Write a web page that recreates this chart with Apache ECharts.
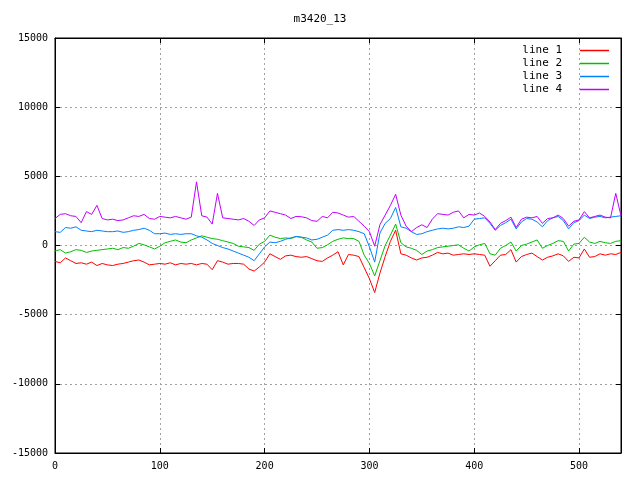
<!DOCTYPE html>
<html>
<head>
<meta charset="utf-8">
<script src="https://cdn.jsdelivr.net/npm/echarts@6/dist/echarts.min.js"></script>
<style>html,body{margin:0;padding:0;background:#fff}#c{width:640px;height:480px}</style>
</head>
<body>
<div id="c"></div>
<script>
const titleText = "m3420_13";
const seriesNames = ["line 1", "line 2", "line 3", "line 4"];
const xStep = 5;
const xTicks = [0, 100, 200, 300, 400, 500];
const yTicks = [-15000, -10000, -5000, 0, 5000, 10000, 15000];

const line1 = [
  -1150, -1250, -900, -1100, -1300, -1250, -1350, -1200, -1450, -1300,
  -1400, -1450, -1350, -1300, -1200, -1100, -1050, -1200, -1400, -1350,
  -1300, -1350, -1250, -1400, -1300, -1350, -1300, -1400, -1300, -1350,
  -1750, -1100, -1200, -1350, -1300, -1300, -1350, -1700, -1850, -1550,
  -1200, -600, -800, -1000, -750, -700, -800, -850, -800, -950,
  -1100, -1150, -900, -700, -450, -1400, -650, -700, -800, -1600,
  -2400, -3400, -2000, -800, 300, 1100, -600, -700, -900, -1050,
  -900, -850, -700, -500, -600, -550, -700, -650, -600, -650,
  -600, -650, -700, -1500, -1100, -700, -650, -300, -1200, -800,
  -650, -550, -800, -1050, -850, -750, -600, -750, -1150, -850,
  -900, -250, -850, -800, -600, -700, -600, -650, -500
];
const line2 = [
  -400, -300, -550, -450, -300, -350, -500, -400, -350, -300,
  -250, -200, -300, -150, -200, -50, 150, 50, -100, -250,
  -50, 200, 300, 400, 250, 200, 400, 550, 700, 600,
  500, 450, 350, 250, 150, -50, -100, -150, -350, 100,
  300, 750, 600, 500, 550, 500, 650, 600, 400, 250,
  -200, -150, 50, 300, 450, 550, 500, 500, 300, -700,
  -1300, -2200, -1100, 0, 750, 1550, 200, -100, -200, -350,
  -650, -400, -300, -150, -100, -50, 0, 50, -200, -400,
  -100, 50, 150, -600, -700, -200, 0, 250, -400, 0,
  100, 250, 400, -200, 0, 150, 350, 300, -400, 100,
  150, 600, 250, 150, 300, 200, 150, 300, 350
];
const line3 = [
  1000, 950, 1300, 1250, 1350, 1100, 1050, 1000, 1100, 1050,
  1000, 1000, 1050, 950, 1000, 1100, 1150, 1250, 1100, 850,
  850, 900, 800, 850, 800, 850, 850, 700, 600, 400,
  150, 0, -150, -250, -400, -550, -700, -850, -1100, -600,
  -100, 250, 200, 300, 450, 550, 650, 600, 550, 400,
  450, 600, 750, 1100, 1150, 1100, 1150, 1100, 1000, 850,
  -100, -1200, 900, 1600, 1950, 2750, 1350, 1250, 1000, 800,
  850, 1000, 1100, 1200, 1250, 1200, 1250, 1350, 1300, 1400,
  1900, 1950, 2000, 1600, 1100, 1450, 1650, 1900, 1200, 1700,
  1950, 1900, 1700, 1350, 1800, 2000, 2100, 1800, 1200, 1650,
  1800, 2200, 1950, 2050, 2100, 2000, 2050, 2100, 2150
];
const line4 = [
  1950, 2250, 2300, 2150, 2100, 1650, 2450, 2250, 2900, 1950,
  1850, 1900, 1800, 1850, 2000, 2150, 2100, 2250, 1950, 1900,
  2100, 2050, 2000, 2100, 2000, 1900, 2050, 4600, 2150, 2050,
  1550, 3770, 2000, 1950, 1900, 1850, 1950, 1750, 1450, 1850,
  2000, 2500, 2400, 2300, 2200, 1950, 2100, 2080, 2000, 1800,
  1750, 2100, 2000, 2400, 2350, 2200, 2050, 2100, 1750, 1400,
  1000, -50, 1500, 2200, 2900, 3700, 2200, 1400, 1000, 1300,
  1500, 1300, 1900, 2300, 2250, 2200, 2400, 2500, 2000, 2250,
  2200, 2350, 2100, 1700, 1150, 1600, 1800, 2050, 1300, 1900,
  2050, 2000, 2100, 1600, 1950, 2000, 2200, 1950, 1400, 1750,
  1850, 2450, 2000, 2100, 2200, 2050, 2000, 3770, 2150
];
const colors = ["#ff0000", "#00c000", "#0080ff", "#c000ff"];
const allValues = [line1, line2, line3, line4];

const font = "DejaVu Sans Mono";
function pairs(vals) { return vals.map((v, i) => [i * xStep, v]); }

const chart = echarts.init(document.getElementById('c'), null, {renderer: 'canvas'});
const gridLine = {show: true, lineStyle: {color: '#a0a0a0', type: [2, 3], width: 1}};
const axLine = {show: true, onZero: false, lineStyle: {color: '#000'}};
const axTick = {show: true, inside: true, length: 5, lineStyle: {color: '#000'}};
chart.setOption({
  animation: false,
  backgroundColor: '#fff',
  title: {text: titleText, left: 'center', top: 9, textStyle: {fontFamily: font, fontSize: 11, fontWeight: 'normal', color: '#000'}},
  legend: {
    data: seriesNames, orient: 'vertical', right: 26, top: 40, align: 'right',
    icon: 'rect', itemWidth: 29, itemHeight: 1.5, itemGap: 2,
    textStyle: {fontFamily: font, fontSize: 11, color: '#000', padding: [0, 13, 0, 0]}
  },
  grid: {left: 55, right: 19, top: 38, bottom: 27, show: true, borderColor: '#000', borderWidth: 1, backgroundColor: 'transparent'},
  xAxis: [
    {type: 'value', min: 0, max: 540, interval: 100, position: 'bottom',
     axisLine: axLine, axisTick: axTick,
     axisLabel: {fontFamily: font, fontSize: 10, color: '#000', margin: 8, showMaxLabel: false,
       formatter: v => xTicks.includes(v) ? String(v) : ''},
     splitLine: gridLine},
    {type: 'value', min: 0, max: 540, interval: 100, position: 'top',
     axisLine: axLine, axisTick: axTick,
     axisLabel: {show: false}, splitLine: {show: false}}
  ],
  yAxis: [
    {type: 'value', min: -15000, max: 15000, interval: 5000, position: 'left',
     axisLine: axLine, axisTick: axTick,
     axisLabel: {fontFamily: font, fontSize: 10, color: '#000', margin: 7,
       formatter: v => yTicks.includes(v) ? String(v) : ''},
     splitLine: gridLine},
    {type: 'value', min: -15000, max: 15000, interval: 5000, position: 'right',
     axisLine: axLine, axisTick: axTick,
     axisLabel: {show: false}, splitLine: {show: false}}
  ],
  series: seriesNames.map((n, i) => ({
    name: n, type: 'line', data: pairs(allValues[i]), showSymbol: false, symbol: 'none',
    xAxisIndex: 0, yAxisIndex: 0,
    lineStyle: {color: colors[i], width: 1}, itemStyle: {color: colors[i]}
  }))
});
</script>
</body>
</html>
